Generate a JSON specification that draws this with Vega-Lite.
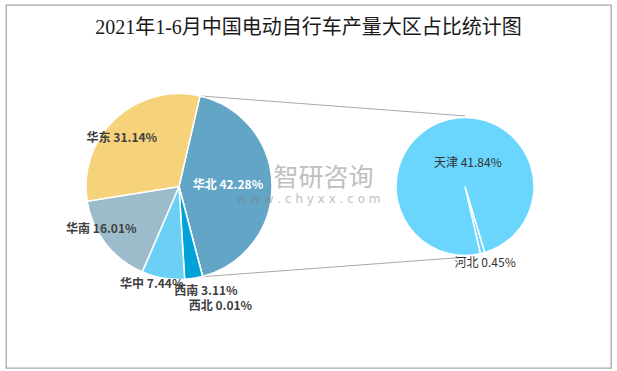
{
  "$schema": "https://vega.github.io/schema/vega-lite/v6.json",
  "width": 617,
  "height": 371,
  "autosize": {"type": "fit", "contains": "padding"},
  "padding": {"left": 6, "top": 5, "right": 6, "bottom": 3},
  "background": "white",
  "config": {"view": {"stroke": "#a6a6a6", "strokeWidth": 1.3}},
  "title": {
    "text": "2021年1-6月中国电动自行车产量大区占比统计图",
    "font": "Liberation Serif, Noto Sans CJK SC",
    "fontSize": 20,
    "fontWeight": "normal",
    "color": "#1a1a1a",
    "anchor": "middle",
    "frame": "group",
    "offset": -33
  },
  "datasets": {
    "main": [
      {"pie": "main", "region": "华北", "value": 42.28, "rank": 1, "label": "华北 42.28%"},
      {"pie": "main", "region": "西北", "value": 0.01, "rank": 2, "label": "西北 0.01%"},
      {"pie": "main", "region": "西南", "value": 3.11, "rank": 3, "label": "西南 3.11%"},
      {"pie": "main", "region": "华中", "value": 7.44, "rank": 4, "label": "华中 7.44%"},
      {"pie": "main", "region": "华南", "value": 16.01, "rank": 5, "label": "华南 16.01%"},
      {"pie": "main", "region": "华东", "value": 31.14, "rank": 6, "label": "华东 31.14%"}
    ],
    "detail": [
      {"pie": "detail", "region": "河北", "value": 0.45, "rank": 1, "label": "河北 0.45%"},
      {"pie": "detail", "region": "天津", "value": 41.84, "rank": 2, "label": "天津 41.84%"}
    ]
  },
  "layer": [
    {
      "data": {"values": [{}]},
      "mark": {"type": "rule", "color": "#a6a6a6", "strokeWidth": 1},
      "encoding": {
        "x": {"datum": "main", "type": "nominal", "scale": {"type": "point", "domain": ["main", "detail"], "padding": 0.5577, "align": 0.5423}, "axis": null},
        "x2": {"datum": "detail"},
        "y": {"datum": 0.991, "type": "quantitative", "scale": {"domain": [-1.9516, 1.9516], "nice": false, "zero": false}, "axis": null},
        "y2": {"datum": 0.759}
      }
    },
    {
      "data": {"values": [{}]},
      "mark": {"type": "rule", "color": "#a6a6a6", "strokeWidth": 1},
      "encoding": {
        "x": {"datum": "main", "type": "nominal"},
        "x2": {"datum": "detail"},
        "y": {"datum": -0.989, "type": "quantitative"},
        "y2": {"datum": -0.76}
      }
    },
    {
      "data": {"name": "main"},
      "encoding": {
        "theta": {"field": "value", "type": "quantitative", "stack": true, "scale": {"range": [0.2279, 6.5111], "nice": false, "zero": true}},
        "order": {"field": "rank", "type": "quantitative"},
        "x": {"field": "pie", "type": "nominal"}
      },
      "layer": [
        {
          "mark": {"type": "arc", "outerRadius": 93, "stroke": "white", "strokeWidth": 1.5},
          "encoding": {
            "color": {"field": "region", "type": "nominal", "legend": null,
              "scale": {"domain": ["华北", "西北", "西南", "华中", "华南", "华东"], "range": ["#62a5c6", "#1f6e9a", "#00a3d9", "#6cd0f5", "#9dbccb", "#f6d27a"]}}
          }
        },
        {
          "mark": {"type": "text", "radius": 49, "dy": -1, "font": "Noto Sans CJK SC", "fontSize": 12, "fontWeight": "bold", "fill": "white"},
          "encoding": {"text": {"field": "label"}, "opacity": {"condition": {"test": "datum.region === '华北'", "value": 1}, "value": 0}}
        },
        {
          "mark": {"type": "text", "radius": 75, "dx": -6, "dy": 6, "font": "Noto Sans CJK SC", "fontSize": 12, "fontWeight": "bold", "fill": "#404040"},
          "encoding": {"text": {"field": "label"}, "opacity": {"condition": {"test": "datum.region === '华东'", "value": 1}, "value": 0}}
        },
        {
          "mark": {"type": "text", "radius": 87, "dx": -9, "dy": -11, "font": "Noto Sans CJK SC", "fontSize": 12, "fontWeight": "bold", "fill": "#404040"},
          "encoding": {"text": {"field": "label"}, "opacity": {"condition": {"test": "datum.region === '华南'", "value": 1}, "value": 0}}
        },
        {
          "mark": {"type": "text", "radius": 100, "dx": -10, "dy": -1, "font": "Noto Sans CJK SC", "fontSize": 12, "fontWeight": "bold", "fill": "#404040"},
          "encoding": {"text": {"field": "label"}, "opacity": {"condition": {"test": "datum.region === '华中'", "value": 1}, "value": 0}}
        },
        {
          "mark": {"type": "text", "radius": 107, "dx": 10, "dy": -1, "font": "Noto Sans CJK SC", "fontSize": 12, "fontWeight": "bold", "fill": "#404040"},
          "encoding": {"text": {"field": "label"}, "opacity": {"condition": {"test": "datum.region === '西南'", "value": 1}, "value": 0}}
        },
        {
          "mark": {"type": "text", "radius": 124, "dx": 10, "dy": 0, "font": "Noto Sans CJK SC", "fontSize": 12, "fontWeight": "bold", "fill": "#404040"},
          "encoding": {"text": {"field": "label"}, "opacity": {"condition": {"test": "datum.region === '西北'", "value": 1}, "value": 0}}
        }
      ]
    },
    {
      "data": {"name": "detail"},
      "encoding": {
        "theta": {"field": "value", "type": "quantitative", "stack": true, "scale": {"range": [2.8501, 9.1333], "nice": false, "zero": true}},
        "order": {"field": "rank", "type": "quantitative"},
        "x": {"field": "pie", "type": "nominal"}
      },
      "layer": [
        {
          "mark": {"type": "arc", "outerRadius": 69, "fill": "#6ad6fd", "stroke": "white", "strokeWidth": 1.5},
          "encoding": {}
        },
        {
          "mark": {"type": "text", "radius": 24, "dx": 9, "dy": 0, "font": "Noto Sans CJK SC", "fontSize": 12, "fill": "#333333"},
          "encoding": {"text": {"field": "label"}, "opacity": {"condition": {"test": "datum.region === '天津'", "value": 1}, "value": 0}}
        },
        {
          "mark": {"type": "text", "radius": 79, "font": "Noto Sans CJK SC", "fontSize": 12, "fill": "#333333"},
          "encoding": {"text": {"field": "label"}, "opacity": {"condition": {"test": "datum.region === '河北'", "value": 1}, "value": 0}}
        }
      ]
    },
    {
      "data": {"values": [{}]},
      "mark": {"type": "text", "text": "智研咨询", "dx": 15, "dy": -8.5, "font": "Noto Sans CJK SC", "fontSize": 25, "fill": "#808080", "opacity": 0.5},
      "encoding": {}
    },
    {
      "data": {"values": [{}]},
      "mark": {"type": "text", "text": "w w w . c h y x x . c o m", "dx": 0, "dy": 12.5, "font": "DejaVu Sans", "fontSize": 12, "fill": "#808080", "opacity": 0.5},
      "encoding": {}
    }
  ],
  "resolve": {"scale": {"theta": "independent", "color": "independent"}}
}
